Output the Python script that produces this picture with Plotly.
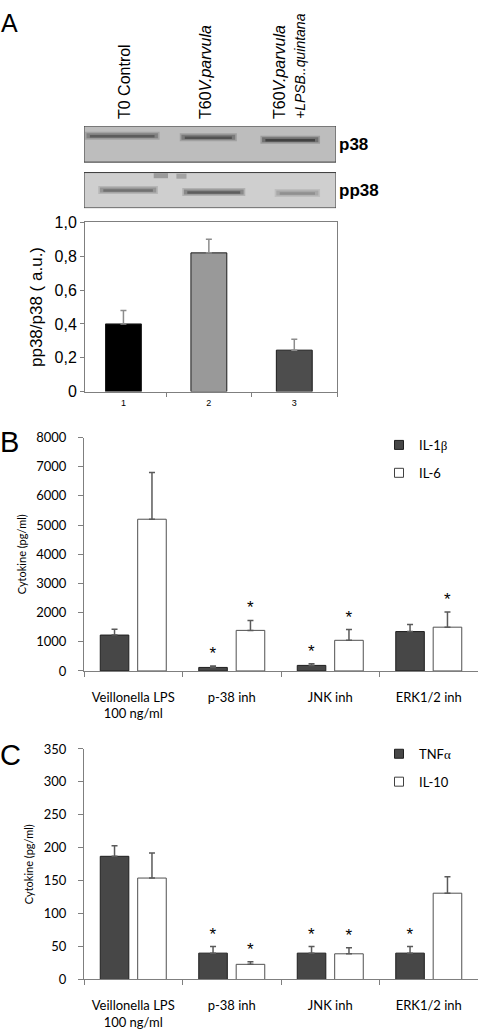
import plotly.graph_objects as go

W, H = 478, 1036

# ---------------- data ----------------
BLOT_LANES = ["T0 Control",
              "T60<i>V.parvula</i>",
              "T60<i>V.parvula</i><br><span style=\"font-size:14px\"><i>+LPSB..quintana</i></span>"]
BLOT_ROWS = ["<b>p38</b>", "<b>pp38</b>"]
P38_INTENSITY = [0.62, 0.70, 0.80]
PP38_INTENSITY = [0.50, 0.62, 0.30]

A_LABELS = ["1", "2", "3"]
A_VALUES = [0.40, 0.82, 0.245]
A_ERRORS = [0.08, 0.08, 0.065]
A_COLORS = ["#000000", "#999999", "#4d4d4d"]
A_TICKS = [0, 0.2, 0.4, 0.6, 0.8, 1.0]
A_TICKTEXT = ["0", "0,2", "0,4", "0,6", "0,8", "1,0"]

CATEGORIES = ["Veillonella LPS<br>100 ng/ml", "p-38 inh", "JNK inh", "ERK1/2 inh"]

IL1B = [1230, 120, 190, 1350]
IL1B_ERR = [195, 45, 55, 245]
IL1B_SIG = [False, True, True, False]
IL6 = [5200, 1390, 1050, 1500]
IL6_ERR = [1600, 340, 370, 520]
IL6_SIG = [False, True, True, True]

TNFA = [187, 40, 40, 40]
TNFA_ERR = [16, 10, 10, 10]
TNFA_SIG = [False, True, True, True]
IL10 = [154, 23, 39, 131]
IL10_ERR = [38, 4, 9, 25]
IL10_SIG = [False, True, True, False]

# ---------------- layout helpers ----------------
def fx(px):
    return px / W

def fy(px):
    return 1 - px / H

ARIAL = "Liberation Sans, Arial, sans-serif"
CALIBRI = "Lato, Carlito, sans-serif"
AXIS_GRAY = "#7f7f7f"
DARK = "#474747"

# blot geometry (lane units horizontally, blot pixel units vertically)
STRIP_Y = [(0, 36.7), (47.3, 83.3)]
STRIP_FILL = ["#bdbdbd", "#cfcfcf"]
P38_SPAN = [(0.01, 0.90), (0.14, 0.82), (0.10, 0.81)]
P38_Y = [10, 11.5, 14]
PP38_SPAN = [(0.17, 0.88), (0.17, 0.92), (0.27, 0.81)]
PP38_Y = [65, 67, 68]

fig = go.Figure()

# ---------------- panel A : blot ----------------
shapes = []
for (y0, y1), fill in zip(STRIP_Y, STRIP_FILL):
    shapes.append(dict(type="rect", xref="x", yref="y", x0=0, x1=3, y0=y0, y1=y1,
                       fillcolor=fill, line=dict(color="#3a3a3a", width=1), layer="below"))

def band_color(intensity):
    v = int(190 - 160 * intensity)
    return f"rgb({v},{v},{v})"

for spans, ys, intens in [(P38_SPAN, P38_Y, P38_INTENSITY), (PP38_SPAN, PP38_Y, PP38_INTENSITY)]:
    for lane, ((s0, s1), yb, it) in enumerate(zip(spans, ys, intens)):
        c = band_color(it)
        shapes.append(dict(type="line", xref="x", yref="y", x0=lane + s0, x1=lane + s1,
                           y0=yb, y1=yb, line=dict(color=c, width=8), opacity=0.25))
        shapes.append(dict(type="line", xref="x", yref="y", x0=lane + s0 + 0.02, x1=lane + s1 - 0.02,
                           y0=yb, y1=yb, line=dict(color=c, width=5), opacity=0.45))
        shapes.append(dict(type="line", xref="x", yref="y", x0=lane + s0 + 0.06, x1=lane + s1 - 0.06,
                           y0=yb + 0.5, y1=yb + 0.5, line=dict(color=c, width=2.5), opacity=0.9))
# small dark smudges at the top of the pp38 strip
for sx0, sx1, sy, op in [(0.83, 1.0, 50.5, 0.35), (1.1, 1.22, 51, 0.3)]:
    shapes.append(dict(type="line", xref="x", yref="y", x0=sx0, x1=sx1, y0=sy, y1=sy,
                       line=dict(color="#404040", width=5), opacity=op))

fig.add_trace(go.Scatter(x=[0.5, 1.5, 2.5], y=[None, None, None], mode="markers",
                         xaxis="x", yaxis="y", showlegend=False, hoverinfo="skip"))

# ---------------- panel A : bar chart ----------------
fig.add_trace(go.Bar(
    x=A_LABELS, y=A_VALUES, width=0.42,
    marker=dict(color=A_COLORS, line=dict(color="#1a1a1a", width=1)),
    error_y=dict(type="data", array=A_ERRORS, arrayminus=[0] * len(A_ERRORS),
                 symmetric=False, color="#8c8c8c", thickness=1.5, width=3),
    xaxis="x2", yaxis="y2", showlegend=False))

# ---------------- panels B & C ----------------
BAR_W = 0.29
OFFSETS = [-0.335, 0.045]

def add_series(values, errors, sig, color, line_color, offset, xa, ya):
    n = len(values)
    fig.add_trace(go.Bar(
        x=CATEGORIES, y=values, width=BAR_W, offset=offset,
        marker=dict(color=color, line=dict(color=line_color, width=1)),
        error_y=dict(type="data", array=errors, arrayminus=[0] * n, symmetric=False,
                     color="#5a5a5a", thickness=1.5, width=3),
        xaxis=xa, yaxis=ya, showlegend=False, hoverinfo="skip"))
    fig.add_trace(go.Bar(
        x=CATEGORIES, y=[v + e for v, e in zip(values, errors)], width=BAR_W, offset=offset,
        marker=dict(color="rgba(0,0,0,0)", line=dict(width=0)),
        text=["*" if s else "" for s in sig], textposition="outside",
        outsidetextfont=dict(family=ARIAL, size=17, color="#000"),
        constraintext="none", cliponaxis=False,
        xaxis=xa, yaxis=ya, showlegend=False, hoverinfo="skip"))

def add_legend_entry(name, color, line_color, legend, group):
    fig.add_trace(go.Scatter(
        x=[None], y=[None], mode="markers", name=name,
        marker=dict(symbol="square", size=9, color=color, line=dict(color=line_color, width=1)),
        legend=legend, legendgroup=group, xaxis="x3", yaxis="y3"))

add_series(IL1B, IL1B_ERR, IL1B_SIG, DARK, "#1f1f1f", OFFSETS[0], "x3", "y3")
add_series(IL6, IL6_ERR, IL6_SIG, "#ffffff", "#505050", OFFSETS[1], "x3", "y3")
add_series(TNFA, TNFA_ERR, TNFA_SIG, DARK, "#1f1f1f", OFFSETS[0], "x4", "y4")
add_series(IL10, IL10_ERR, IL10_SIG, "#ffffff", "#505050", OFFSETS[1], "x4", "y4")

SERIF = "<span style=\"font-family:'Liberation Serif', serif\">"
add_legend_entry("IL-1" + SERIF + "β</span>", DARK, "#1f1f1f", "legend", "b1")
add_legend_entry("IL-6", "#ffffff", "#404040", "legend", "b2")
add_legend_entry("TNF" + SERIF + "α</span>", DARK, "#1f1f1f", "legend2", "c1")
add_legend_entry("IL-10", "#ffffff", "#404040", "legend2", "c2")

# ---------------- axes ----------------
common_off = dict(showgrid=False, zeroline=False)

def cyto_x(domain_anchor):
    return dict(domain=[fx(84), 1], anchor=domain_anchor, type="category",
                tickson="boundaries", ticks="outside", ticklen=5, tickcolor=AXIS_GRAY,
                showline=True, linecolor=AXIS_GRAY, linewidth=1,
                tickfont=dict(family=CALIBRI, size=13, color="#000"),
                ticklabelstandoff=14, range=[-0.5, 3.5], automargin=False, **common_off)

def cyto_y(domain, rng, dtick, anchor):
    return dict(domain=domain, anchor=anchor, range=rng, dtick=dtick, tick0=0,
                ticks="outside", ticklen=5, tickcolor=AXIS_GRAY,
                showline=True, linecolor=AXIS_GRAY, linewidth=1,
                tickfont=dict(family=CALIBRI, size=13, color="#000"),
                ticklabelstandoff=9,
                title=dict(text="Cytokine (pg/ml)", font=dict(family=CALIBRI, size=11, color="#000"),
                           standoff=7),
                automargin=True, **common_off)

legend_common = dict(xanchor="left", yanchor="top", bgcolor="rgba(0,0,0,0)",
                     font=dict(family=CALIBRI, size=13, color="#000"),
                     traceorder="grouped", tracegroupgap=8, itemwidth=30)

fig.update_layout(
    width=W, height=H, margin=dict(l=0, r=0, t=0, b=0),
    paper_bgcolor="white", plot_bgcolor="rgba(0,0,0,0)",
    barmode="overlay", shapes=shapes,
    font=dict(family=ARIAL, color="#000"),
    xaxis=dict(domain=[fx(84), fx(336)], anchor="y", range=[0, 3], side="top",
               tickvals=[0.48, 1.45, 2.45], ticktext=BLOT_LANES, tickangle=-90,
               ticks="", showline=False, tickfont=dict(family=ARIAL, size=16, color="#000"),
               ticklabelstandoff=6, automargin=False, **common_off),
    yaxis=dict(domain=[fy(203.5), fy(120)], anchor="x", range=[83.5, 0], side="right",
               tickvals=[sum(s) / 2 for s in STRIP_Y], ticktext=BLOT_ROWS, ticks="",
               showline=False, tickfont=dict(family=ARIAL, size=17, color="#000"),
               ticklabelstandoff=2, automargin=False, **common_off),
    xaxis2=dict(domain=[fx(85), fx(337)], anchor="y2", type="category",
                range=[-0.45, 2.5], tickson="boundaries", ticks="outside", ticklen=4,
                tickcolor=AXIS_GRAY, showline=True, linecolor=AXIS_GRAY, mirror=True,
                tickfont=dict(family=ARIAL, size=9, color="#000"), ticklabelstandoff=3,
                automargin=False, **common_off),
    yaxis2=dict(domain=[fy(390), fy(218)], anchor="x2", range=[0, 1.0],
                tickvals=A_TICKS, ticktext=A_TICKTEXT, ticks="outside", ticklen=4,
                tickcolor=AXIS_GRAY, showline=True, linecolor=AXIS_GRAY, mirror=True,
                tickfont=dict(family=ARIAL, size=16, color="#000"), ticklabelstandoff=0,
                title=dict(text="pp38/p38 ( a.u.)", font=dict(family=ARIAL, size=17, color="#000"),
                           standoff=7),
                automargin=True, **common_off),
    xaxis3=cyto_x("y3"),
    yaxis3=cyto_y([fy(674), fy(436.7)], [0, 8000], 1000, "x3"),
    xaxis4=cyto_x("y4"),
    yaxis4=cyto_y([fy(987.7), fy(753.3)], [0, 350], 50, "x4"),
    legend=dict(x=fx(379), y=fy(429), **legend_common),
    legend2=dict(x=fx(379), y=fy(743), **legend_common),
    annotations=[
        dict(text="A", x=0, y=fy(0), xref="paper", yref="paper", xanchor="left", yanchor="top",
             showarrow=False, font=dict(family=ARIAL, size=25, color="#000"), xshift=-1, yshift=1),
        dict(text="B", x=0, y=fy(423), xref="paper", yref="paper", xanchor="left", yanchor="top",
             showarrow=False, font=dict(family=ARIAL, size=29, color="#000"), xshift=-2),
        dict(text="C", x=0, y=fy(741), xref="paper", yref="paper", xanchor="left", yanchor="top",
             showarrow=False, font=dict(family=ARIAL, size=29, color="#000"), xshift=-2),
    ],
)

fig.write_html("out.html", config={"displayModeBar": False},
               post_script="document.body.style.margin='0';document.body.style.overflow='hidden';")
